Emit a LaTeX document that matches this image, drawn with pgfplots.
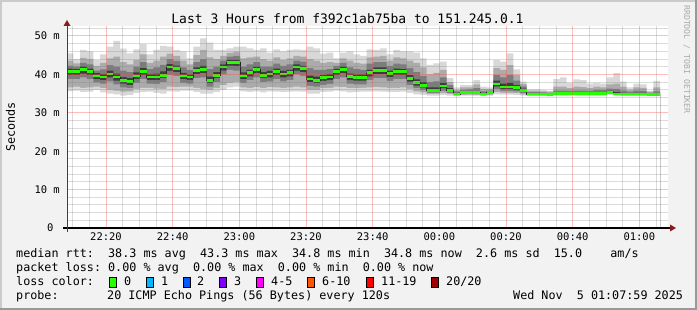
\documentclass[border=0pt]{standalone}
\usepackage{fontspec}
\setmainfont{DejaVu Sans Mono}
\usepackage{pgfplots}
\pgfplotsset{compat=1.18}
\usepackage{pgfplotstable}
\definecolor{canvasbg}{HTML}{F2F2F2}
\definecolor{shadea}{HTML}{CBCBCB}
\definecolor{shadeb}{HTML}{999999}
\definecolor{mgrid}{HTML}{FF5050}
\definecolor{ggrid}{HTML}{808080}
\definecolor{arrowc}{HTML}{8B1A1A}
\definecolor{sA}{HTML}{D8D8D8}
\definecolor{sB}{HTML}{ABABAB}
\definecolor{sC}{HTML}{7C7C7C}
\definecolor{sD}{HTML}{3C3C3C}
\definecolor{medgreen}{HTML}{26FF00}
\definecolor{lc0}{HTML}{26FF00}
\definecolor{lc1}{HTML}{00B8FF}
\definecolor{lc2}{HTML}{0059FF}
\definecolor{lc3}{HTML}{7E00FF}
\definecolor{lc4}{HTML}{FF00FF}
\definecolor{lc6}{HTML}{FF5500}
\definecolor{lc11}{HTML}{FF0000}
\definecolor{lc20}{HTML}{A10000}
\definecolor{rrdtxt}{HTML}{AAAAAA}

\pgfplotstableread{
t lo1 lo2 lo3 lo4 med hi4 hi3 hi2 hi1
8.2 35.6 36.6 38.8 39.8 40.7 41.5 42.3 43.6 45.5
10.2 35.8 36.8 38.8 39.8 40.7 41.4 42.0 42.9 44.0
12.2 35.4 36.5 39.2 40.2 41.2 42.0 43.0 44.3 46.4
14.2 35.5 36.6 38.8 39.8 40.7 41.5 42.6 44.0 46.0
16.2 35.9 36.8 37.9 38.8 39.6 40.3 41.0 42.2 43.8
18.2 35.3 36.4 37.6 38.5 39.3 40.1 41.3 43.0 45.2
20.2 35.0 36.0 38.2 39.2 40.1 41.0 42.4 44.2 47.2
22.2 34.8 35.8 37.4 38.4 39.3 40.2 42.0 44.6 48.7
24.2 34.5 35.5 36.6 37.6 38.4 39.3 41.0 43.2 46.7
26.2 34.6 35.6 36.4 37.3 38.1 39.0 40.6 42.6 45.5
28.2 35.2 36.2 37.8 38.8 39.6 40.5 42.0 43.8 46.5
30.2 35.4 36.5 38.8 39.8 40.7 41.6 43.2 45.2 47.9
32.2 35.5 36.5 37.6 38.5 39.3 40.1 41.4 43.0 45.2
34.2 35.2 36.3 37.5 38.5 39.3 40.2 41.8 43.6 46.4
36.2 35.0 36.2 38.0 39.0 39.8 40.8 42.5 44.6 47.4
38.2 35.6 36.8 39.8 40.9 41.9 42.7 44.0 45.4 47.2
40.2 35.5 36.7 39.6 40.6 41.5 42.3 43.5 44.8 46.4
42.2 35.8 36.8 37.8 38.8 39.6 40.4 41.8 43.6 46.0
44.2 35.8 36.8 37.6 38.5 39.3 40.0 41.2 42.6 44.2
46.2 35.4 36.5 39.0 40.1 41.0 41.8 43.2 45.0 47.2
48.2 35.0 36.2 39.2 40.3 41.2 42.2 44.0 46.4 49.4
50.2 35.0 36.0 36.8 37.7 38.5 39.4 41.4 44.4 48.3
52.2 35.4 36.5 38.0 39.0 39.8 40.6 42.0 44.0 46.4
54.2 36.0 37.2 40.0 41.0 41.9 42.6 43.6 44.8 46.4
56.2 36.6 37.8 41.2 42.3 43.2 43.8 44.6 45.6 46.8
58.2 36.8 38.0 41.0 42.2 43.1 43.8 44.8 45.9 47.2
60.2 35.6 36.6 37.8 38.8 39.6 40.5 42.0 44.2 47.2
62.2 35.4 36.5 38.5 39.5 40.4 41.2 42.6 44.4 46.8
64.2 35.6 36.7 39.2 40.3 41.2 42.0 43.2 44.6 46.4
66.2 35.3 36.4 38.0 39.0 39.8 40.6 42.0 44.0 46.8
68.2 35.6 36.7 38.2 39.2 40.1 40.9 42.0 43.6 45.7
70.2 35.5 36.6 38.8 39.8 40.7 41.5 42.8 44.4 46.5
72.2 35.4 36.5 38.2 39.2 40.1 40.9 42.2 43.8 46.0
74.2 35.5 36.6 38.5 39.5 40.4 41.2 42.6 44.2 46.4
76.2 35.6 36.8 40.0 41.0 41.9 42.6 43.6 44.8 46.5
78.2 35.5 36.6 39.6 40.6 41.5 42.2 43.3 44.6 46.4
80.2 35.0 36.0 37.0 38.0 38.8 39.7 41.6 44.0 47.2
82.2 35.0 36.0 36.8 37.7 38.5 39.4 41.2 43.6 46.8
84.2 35.4 36.4 37.3 38.3 39.1 39.9 41.2 43.0 45.4
86.2 35.5 36.5 37.5 38.5 39.3 40.1 41.4 43.2 45.7
88.2 35.8 36.8 38.8 39.8 40.7 41.4 42.2 43.0 44.2
90.2 35.6 36.7 39.2 40.3 41.2 42.0 43.0 44.2 45.7
92.2 35.3 36.4 37.6 38.6 39.4 40.2 41.8 43.6 46.0
94.2 35.4 36.4 37.4 38.4 39.2 40.0 41.4 43.0 45.2
96.2 35.5 36.5 37.4 38.4 39.2 40.0 41.2 42.8 44.8
98.2 35.5 36.6 38.5 39.5 40.4 41.2 42.8 44.4 46.5
100.2 35.6 36.7 39.0 40.1 41.0 41.8 43.2 44.6 46.4
102.2 35.5 36.6 39.0 40.1 41.0 41.8 43.2 44.8 46.8
104.2 35.4 36.5 38.3 39.3 40.2 41.0 42.2 43.6 45.2
106.2 35.4 36.5 38.8 39.8 40.7 41.5 42.8 44.4 46.4
108.2 35.5 36.6 38.8 39.8 40.7 41.4 42.6 44.2 46.0
110.2 35.2 36.2 37.2 38.1 38.9 39.8 41.6 43.6 46.0
112.2 34.8 35.6 36.4 37.1 37.8 38.7 40.6 43.0 45.7
114.2 34.6 35.3 35.9 36.6 37.2 38.0 39.6 41.8 44.2
116.2 34.5 34.9 35.2 35.5 35.9 36.6 38.0 40.0 42.5
118.2 34.5 34.9 35.2 35.5 35.9 36.6 38.2 40.4 42.9
120.2 34.6 35.1 35.8 36.4 37.0 37.8 39.2 41.2 43.3
122.2 34.5 34.9 35.2 35.5 35.9 36.4 37.2 38.0 39.0
124.2 34.4 34.5 34.6 34.7 34.9 35.2 35.6 36.0 36.6
126.2 34.5 34.7 34.8 35.0 35.2 35.5 36.0 36.6 37.2
128.2 34.5 34.7 34.9 35.1 35.3 35.6 36.1 36.6 37.2
130.2 34.5 34.7 34.8 35.0 35.2 35.6 36.4 37.4 38.5
132.2 34.4 34.5 34.6 34.7 34.9 35.2 35.6 36.2 36.8
134.2 34.5 34.7 34.8 35.0 35.2 35.5 35.8 36.2 36.6
136.2 34.8 35.4 36.2 36.9 37.5 38.4 39.8 41.6 43.7
138.2 34.7 35.2 35.7 36.2 36.7 37.6 39.2 41.2 43.3
140.2 34.7 35.2 35.7 36.2 36.7 37.8 39.8 42.4 45.5
142.2 34.6 35.1 35.6 36.0 36.5 37.2 38.4 39.8 41.3
144.2 34.5 34.8 35.1 35.4 35.8 36.3 36.9 37.5 38.1
146.2 34.4 34.5 34.6 34.7 34.9 35.1 35.4 35.8 36.1
148.2 34.4 34.5 34.6 34.7 34.9 35.1 35.4 35.8 36.1
150.2 34.4 34.5 34.6 34.7 34.9 35.1 35.3 35.6 35.9
152.2 34.3 34.4 34.5 34.6 34.7 35.0 35.2 35.5 35.7
154.2 34.5 34.6 34.7 34.8 35.0 35.3 35.8 36.8 38.8
156.2 34.5 34.6 34.7 34.8 35.0 35.3 35.8 36.8 39.2
158.2 34.5 34.6 34.7 34.8 35.0 35.3 35.7 36.4 37.8
160.2 34.5 34.6 34.7 34.8 35.0 35.3 35.8 36.8 38.7
162.2 34.5 34.6 34.7 34.8 35.0 35.3 35.8 36.7 38.5
164.2 34.5 34.6 34.7 34.8 35.0 35.3 35.7 36.4 37.6
166.2 34.5 34.6 34.7 34.8 35.0 35.4 36.0 36.8 37.8
168.2 34.5 34.6 34.7 34.8 35.0 35.4 35.9 36.6 37.6
170.2 34.7 34.8 34.9 35.1 35.3 35.7 36.3 37.4 39.2
172.2 34.5 34.6 34.7 34.8 34.9 35.4 36.2 37.6 40.3
174.2 34.4 34.5 34.6 34.7 34.9 35.2 35.8 36.8 38.1
176.2 34.4 34.5 34.6 34.7 34.9 35.1 35.5 36.0 36.6
178.2 34.4 34.5 34.6 34.7 34.9 35.2 35.8 36.6 37.6
180.2 34.4 34.5 34.6 34.7 34.9 35.2 35.7 36.5 37.4
182.2 34.4 34.5 34.6 34.7 34.8 35.0 35.2 35.5 35.7
184.2 34.4 34.5 34.6 34.7 34.8 35.1 35.6 36.6 38.3
186.2 34.4 34.5 34.6 34.7 34.8 35.1 35.6 36.6 38.3
}\smoke

\begin{document}
\frenchspacing
\begin{tikzpicture}[x=1pt,y=1pt]
\path[use as bounding box] (0,0) rectangle (697,310);
\fill[canvasbg] (0,0) rectangle (697,310);
\fill[shadea] (0,0) rectangle (2,310);
\fill[shadea] (0,308) rectangle (697,310);
\fill[shadeb] (695,0) rectangle (697,310);
\fill[shadeb] (0,0) rectangle (697,2);

\begin{axis}[
  at={(67pt,82pt)}, anchor=south west,
  width=601pt, height=201.6pt, scale only axis,
  xmin=8.3, xmax=188.6, ymin=0, ymax=52.5,
  axis background/.style={fill=white},
  axis line style={draw=none},
  axis on top,
  xtick={20,40,60,80,100,120,140,160,180},
  xticklabels={22:20,22:40,23:00,23:20,23:40,00:00,00:20,00:40,01:00},
  ytick={0,10,20,30,40,50},
  yticklabels={0~~,10~m,20~m,30~m,40~m,50~m},
  minor xtick={10,15,25,30,35,45,50,55,65,70,75,85,90,95,105,110,115,125,130,135,145,150,155,165,170,175,185},
  minor ytick={2,4,6,8,12,14,16,18,22,24,26,28,32,34,36,38,42,44,46,48,52},
  xmajorgrids=true, ymajorgrids=true, xminorgrids=true, yminorgrids=true,
  major grid style={draw=mgrid, draw opacity=0.38, solid, line width=1pt},
  minor grid style={draw=ggrid, draw opacity=0.28, solid, line width=1pt},
  xtick pos=bottom, ytick pos=left,
  major tick length=0pt, minor tick length=0pt,
  xticklabel style={font=\fontsize{10.5}{12}\selectfont, inner sep=0pt, anchor=north, yshift=-5pt},
  yticklabel style={font=\fontsize{10.5}{12}\selectfont, inner sep=0pt, anchor=east, xshift=-7pt},
]
\addplot[const plot, fill=sA, draw=none] table[x=t,y=hi1]{\smoke} \closedcycle;
\addplot[const plot, fill=sB, draw=none] table[x=t,y=hi2]{\smoke} \closedcycle;
\addplot[const plot, fill=sC, draw=none] table[x=t,y=hi3]{\smoke} \closedcycle;
\addplot[const plot, fill=sD, draw=none] table[x=t,y=hi4]{\smoke} \closedcycle;
\addplot[const plot, fill=sC, draw=none] table[x=t,y=lo4]{\smoke} \closedcycle;
\addplot[const plot, fill=sB, draw=none] table[x=t,y=lo3]{\smoke} \closedcycle;
\addplot[const plot, fill=sA, draw=none] table[x=t,y=lo2]{\smoke} \closedcycle;
\addplot[const plot, fill=white, draw=none] table[x=t,y=lo1]{\smoke} \closedcycle;
\addplot[const plot, color=black!85, line width=0.7pt] table[x=t,y=med]{\smoke};
\addplot[jump mark left, color=medgreen, line width=2.8pt] table[x=t,y=med]{\smoke};
\end{axis}

% axes with arrows
\draw[black, line width=1.6pt] (63,82) -- (671,82);
\draw[black!75, line width=1pt] (67,78) -- (67,285);
\fill[arrowc] (670,78.5) -- (676,82) -- (670,85.5) -- cycle;
\fill[arrowc] (63.5,284) -- (67,290) -- (70.5,284) -- cycle;

% title
\node[anchor=base, inner sep=0pt, font=\fontsize{13}{15}\selectfont] at (347.5,286) {Last 3 Hours from f392c1ab75ba to 151.245.0.1};
% y label
\node[anchor=base, rotate=90, inner sep=0pt, font=\fontsize{11.75}{14}\selectfont] at (15,183) {Seconds};
% rrdtool tag
\node[anchor=base west, rotate=-90, inner sep=0pt, text=rrdtxt, font=\fontsize{8.2}{10}\selectfont] at (684,305) {RRDTOOL / TOBI OETIKER};

% legend
\begin{scope}[every node/.style={anchor=base west, inner sep=0pt, font=\fontsize{11.75}{14}\selectfont}]
\node at (16,52.5) {median rtt:~~38.3 ms avg~~43.3 ms max~~34.8 ms min~~34.8 ms now~~2.6 ms sd~~15.0~~~~am/s};
\node at (16,38.5) {packet loss:~0.00 \% avg~~0.00 \% max~~0.00 \% min~~0.00 \% now};
\node at (16,24.5) {loss color:};
\foreach \bx/\cc/\lx/\lab in {109/lc0/124/0, 146/lc1/161/1, 183/lc2/197/2, 219/lc3/234/3, 256/lc4/271/4-5, 307/lc6/322/6-10, 366/lc11/381/11-19, 431/lc20/446/20\slash 20}{
  \filldraw[fill=\cc, draw=black, line width=0.8pt] (\bx,23) rectangle (\bx+7.5,32.5);
  \node at (\lx,24.5) {\lab};
}
\node at (16,10.5) {probe:};
\node at (107,10.5) {20 ICMP Echo Pings (56 Bytes) every 120s};
\node at (513,10.5) {Wed Nov~~5 01:07:59 2025};
\end{scope}
\end{tikzpicture}
\end{document}
